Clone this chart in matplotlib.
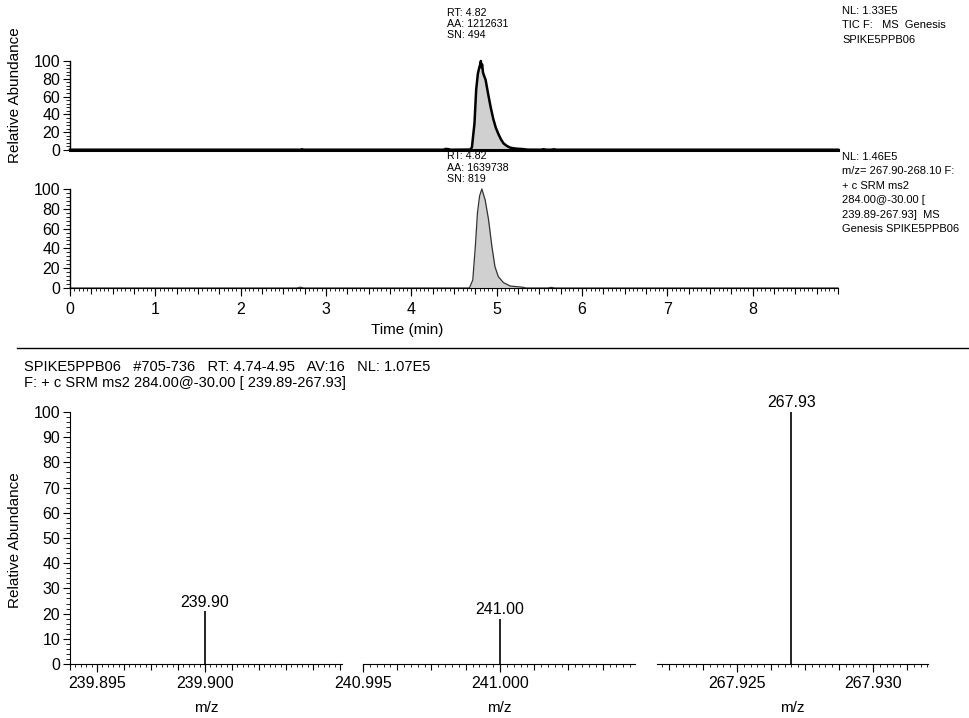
import matplotlib
matplotlib.use('Agg')
import matplotlib.pyplot as plt
from matplotlib.ticker import MultipleLocator, FixedLocator, NullFormatter
from matplotlib.lines import Line2D

plt.rcParams['font.family'] = ['Liberation Sans', 'DejaVu Sans']

# TIC chromatogram (time in min, relative abundance)
tic_time = [0.0, 2.70, 2.72, 2.74, 4.38, 4.40, 4.43, 4.46, 4.69, 4.71, 4.74, 4.76, 4.78,
            4.80, 4.81, 4.815, 4.82, 4.83, 4.84, 4.85, 4.87, 4.90, 4.93, 4.96, 4.99,
            5.02, 5.05, 5.08, 5.12, 5.16, 5.22, 5.31, 5.36, 5.52, 5.55, 5.58, 5.64,
            5.67, 5.70, 9.0]
tic_abund = [0.3, 0.3, 0.8, 0.3, 0.3, 1.2, 1.0, 0.3, 0.5, 3, 30, 68, 86,
             94, 97, 100, 93, 96, 87, 84, 79, 63, 48, 35, 25,
             18, 12, 7.5, 4.5, 2.6, 1.6, 1.0, 0.4, 0.3, 0.9, 0.3, 0.3,
             0.8, 0.3, 0.3]

# SRM chromatogram m/z 267.90-268.10
srm_time = [0.0, 2.66, 2.70, 2.74, 4.68, 4.72, 4.75, 4.775, 4.80, 4.826, 4.865, 4.905,
            4.944, 4.98, 5.02, 5.08, 5.16, 5.31, 5.34, 5.60, 5.64, 5.68, 9.0]
srm_abund = [0.0, 0.0, 0.8, 0.0, 0.0, 8, 42, 76, 93, 100, 89, 69,
             42, 21.5, 11.4, 5.4, 2.0, 0.7, 0.0, 0.0, 0.6, 0.0, 0.0]
time_ticks = [0, 1, 2, 3, 4, 5, 6, 7, 8]

# mass spectrum (three zoomed windows)
spec_mz = [239.900, 241.000, 267.927]
spec_int = [21.0, 18.0, 100.0]
spec_labels = ['239.90', '241.00', '267.93']
spec_xlims = [(239.89375, 239.90634), (240.995, 241.00493), (267.92206, 267.93202)]
spec_ticks = [[239.895, 239.900], [240.995, 241.000], [267.925, 267.930]]

tic_info = 'RT: 4.82\nAA: 1212631\nSN: 494'
srm_info = 'RT: 4.82\nAA: 1639738\nSN: 819'
tic_note = 'NL: 1.33E5\nTIC F:   MS  Genesis\nSPIKE5PPB06'
srm_note = ('NL: 1.46E5\nm/z= 267.90-268.10 F:\n+ c SRM ms2\n284.00@-30.00 [\n'
            '239.89-267.93]  MS\nGenesis SPIKE5PPB06')
header = ('SPIKE5PPB06   #705-736   RT: 4.74-4.95   AV:16   NL: 1.07E5\n'
          'F: + c SRM ms2 284.00@-30.00 [ 239.89-267.93]')

W, H = 970, 718
fig = plt.figure(figsize=(W / 100, H / 100), dpi=100)


def box(x0, x1, ytop, ybot):
    return [x0 / W, 1 - ybot / H, (x1 - x0) / W, (ybot - ytop) / H]


tick_fs = 11.5
note_fs = 8
info_fs = 7.7


def chrom_axes(ax, ticks_x):
    ax.set_xlim(0, 9.0)
    ax.set_ylim(0, 100)
    for s in ['top', 'right']:
        ax.spines[s].set_visible(False)
    ax.spines['left'].set_linewidth(1.0)
    ax.yaxis.set_major_locator(MultipleLocator(20))
    ax.yaxis.set_minor_locator(MultipleLocator(4))
    ax.tick_params(axis='y', which='major', length=5, labelsize=tick_fs, pad=2)
    ax.tick_params(axis='y', which='minor', length=3)
    if ticks_x:
        ax.xaxis.set_major_locator(FixedLocator(time_ticks))
        ax.xaxis.set_minor_locator(MultipleLocator(0.05))
        ax.tick_params(axis='x', which='major', length=6, labelsize=tick_fs, pad=4)
        ax.tick_params(axis='x', which='minor', length=2.5)
        sec = ax.secondary_xaxis('bottom')
        sec.xaxis.set_major_locator(MultipleLocator(0.25))
        sec.xaxis.set_major_formatter(NullFormatter())
        sec.tick_params(length=4)
        sec.spines['bottom'].set_visible(False)
    else:
        ax.spines['bottom'].set_visible(False)
        ax.set_xticks([])


# top: TIC
ax1 = fig.add_axes(box(70, 838, 61, 150))
chrom_axes(ax1, False)
ax1.fill_between(tic_time, tic_abund, 0, color='#d0d0d0', lw=0)
ax1.plot(tic_time, tic_abund, color='black', lw=1.8, clip_on=False)
ax1.axhline(0, color='black', lw=2.2, clip_on=False)
fig.text(447 / W, 1 - 8 / H, tic_info, ha='left', va='top', fontsize=info_fs, linespacing=1.1)
fig.text(842 / W, 1 - 6 / H, tic_note, ha='left', va='top', fontsize=note_fs, linespacing=1.55)

# middle: SRM
ax2 = fig.add_axes(box(70, 838, 189, 288))
chrom_axes(ax2, True)
ax2.fill_between(srm_time, srm_abund, 0, color='#d0d0d0', lw=0)
ax2.plot(srm_time, srm_abund, color='#333333', lw=0.9, clip_on=False)
fig.text(447 / W, 1 - 151 / H, srm_info, ha='left', va='top', fontsize=info_fs, linespacing=1.2)
fig.text(407 / W, 1 - 330 / H, 'Time (min)', ha='center', va='center', fontsize=11)
fig.text(842 / W, 1 - 152 / H, srm_note, ha='left', va='top', fontsize=note_fs, linespacing=1.55)

fig.text(15 / W, 1 - 95 / H, 'Relative Abundance', rotation=90, ha='center', va='center',
         fontsize=11)

# separator and spectrum header
fig.add_artist(Line2D([17 / W, 1.0], [1 - 348 / H, 1 - 348 / H], color='black', lw=1.0,
                      transform=fig.transFigure))
fig.text(24 / W, 1 - 360 / H, header, ha='left', va='top', fontsize=10.5, linespacing=1.15)

# bottom: spectrum windows
spec_boxes = [(70, 342), (363, 635), (657, 928)]
for i, (x0, x1) in enumerate(spec_boxes):
    ax = fig.add_axes(box(x0, x1, 412, 664))
    ax.vlines(spec_mz[i], 0, spec_int[i], color='black', lw=1.2)
    ax.text(spec_mz[i], spec_int[i] + 0.6, spec_labels[i], ha='center', va='bottom',
            fontsize=tick_fs)
    ax.set_xlim(*spec_xlims[i])
    ax.set_ylim(0, 100)
    for s in ['top', 'right']:
        ax.spines[s].set_visible(False)
    ax.xaxis.set_major_locator(FixedLocator(spec_ticks[i]))
    ax.xaxis.set_major_formatter(plt.FuncFormatter(lambda v, p: '%.3f' % v))
    ax.xaxis.set_minor_locator(MultipleLocator(0.00025))
    ax.tick_params(axis='x', which='major', length=6, labelsize=tick_fs, pad=3)
    ax.tick_params(axis='x', which='minor', length=2.5)
    sec = ax.secondary_xaxis('bottom')
    sec.xaxis.set_major_locator(MultipleLocator(0.00125))
    sec.xaxis.set_major_formatter(NullFormatter())
    sec.tick_params(length=4)
    sec.spines['bottom'].set_visible(False)
    ax.set_xlabel('m/z', fontsize=11, labelpad=7)
    if i == 0:
        ax.yaxis.set_major_locator(MultipleLocator(10))
        ax.yaxis.set_minor_locator(MultipleLocator(2))
        ax.tick_params(axis='y', which='major', length=5, labelsize=tick_fs, pad=2)
        ax.tick_params(axis='y', which='minor', length=3)
    else:
        ax.spines['left'].set_visible(False)
        ax.set_yticks([])

fig.text(15 / W, 1 - 540 / H, 'Relative Abundance', rotation=90, ha='center', va='center',
         fontsize=11)

fig.savefig('out.png', dpi=100)
